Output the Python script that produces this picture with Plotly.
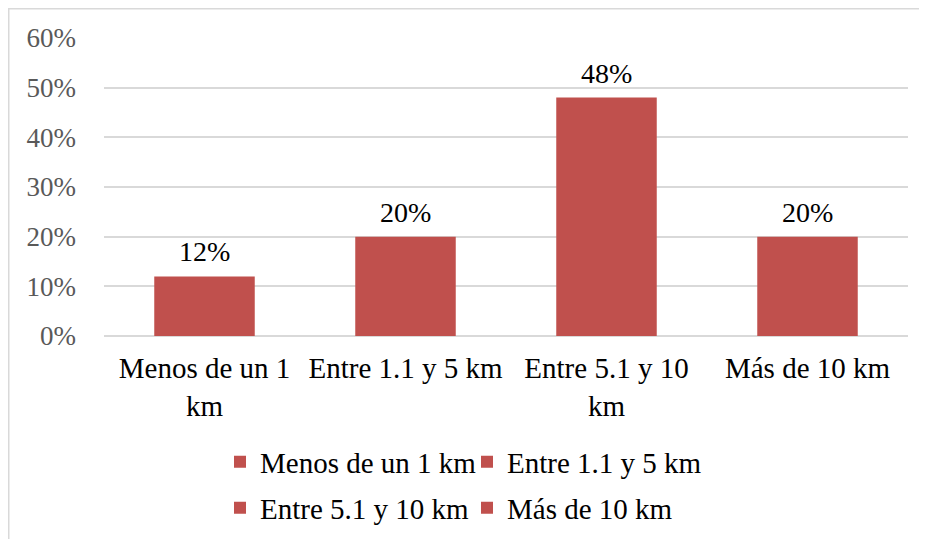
import plotly.graph_objects as go

categorias = ["Menos de un 1 km", "Entre 1.1 y 5 km", "Entre 5.1 y 10 km", "Más de 10 km"]
etiquetas_eje = ["Menos de un 1<br>km", "Entre 1.1 y 5 km", "Entre 5.1 y 10<br>km", "Más de 10 km"]
porcentajes = [0.12, 0.20, 0.48, 0.20]

color_barra = "#C0504D"
fuente = "Liberation Serif, Times New Roman, serif"

fig = go.Figure()
for i, (cat, lab, val) in enumerate(zip(categorias, etiquetas_eje, porcentajes)):
    fig.add_trace(go.Bar(
        x=[lab], y=[val], name=cat,
        marker=dict(color=color_barra, line=dict(width=0)),
        width=0.5,
        legend="legend" if i < 2 else "legend2",
    ))
    # etiqueta de datos encima de cada barra
    fig.add_annotation(
        x=lab, y=val, text=f"{val:.0%}", showarrow=False,
        yanchor="bottom", yshift=7,
        font=dict(family=fuente, size=28, color="#000000"),
    )

leyenda = dict(
    orientation="h", xref="container", yref="container",
    xanchor="left", yanchor="middle",
    font=dict(family=fuente, size=29, color="#000000"),
    entrywidth=202, itemwidth=30, tracegroupgap=0,
    bgcolor="rgba(0,0,0,0)",
)

# el lienzo empieza 8 px dentro de la ventana (margen del body)
W, H = 927, 539
ml, mr, mt, mb = 96, 27, 30, 211
pw, ph = W - ml - mr, H - mt - mb

fig.update_layout(
    width=W, height=H,
    margin=dict(l=ml, r=mr, t=mt, b=mb),
    paper_bgcolor="white", plot_bgcolor="white",
    barmode="overlay",
    showlegend=True,
    legend=dict(leyenda, x=212 / W, y=1 - 454 / H),
    legend2=dict(leyenda, x=212 / W, y=1 - 500 / H),
    xaxis=dict(
        categoryorder="array", categoryarray=etiquetas_eje,
        tickangle=0, showgrid=False, showline=False, ticks="",
        ticklabelstandoff=12,
        tickfont=dict(family=fuente, size=29, color="#000000"),
    ),
    yaxis=dict(
        range=[0, 0.6], dtick=0.1, tickformat=".0%",
        showgrid=True, gridcolor="#D9D9D9", gridwidth=1.5,
        zeroline=True, zerolinecolor="#D9D9D9", zerolinewidth=1.5,
        ticks="", ticklabelstandoff=27,
        tickfont=dict(family=fuente, size=27, color="#595959"),
    ),
    shapes=[dict(
        type="rect", xref="paper", yref="paper",
        x0=(0.75 - ml) / pw, x1=(W + 20 - ml) / pw,
        y0=-(mb + 20) / ph, y1=(ph + mt - 0.75) / ph,
        line=dict(color="#D9D9D9", width=1.5), layer="below",
    )],
)

fig.write_html("out.html")
